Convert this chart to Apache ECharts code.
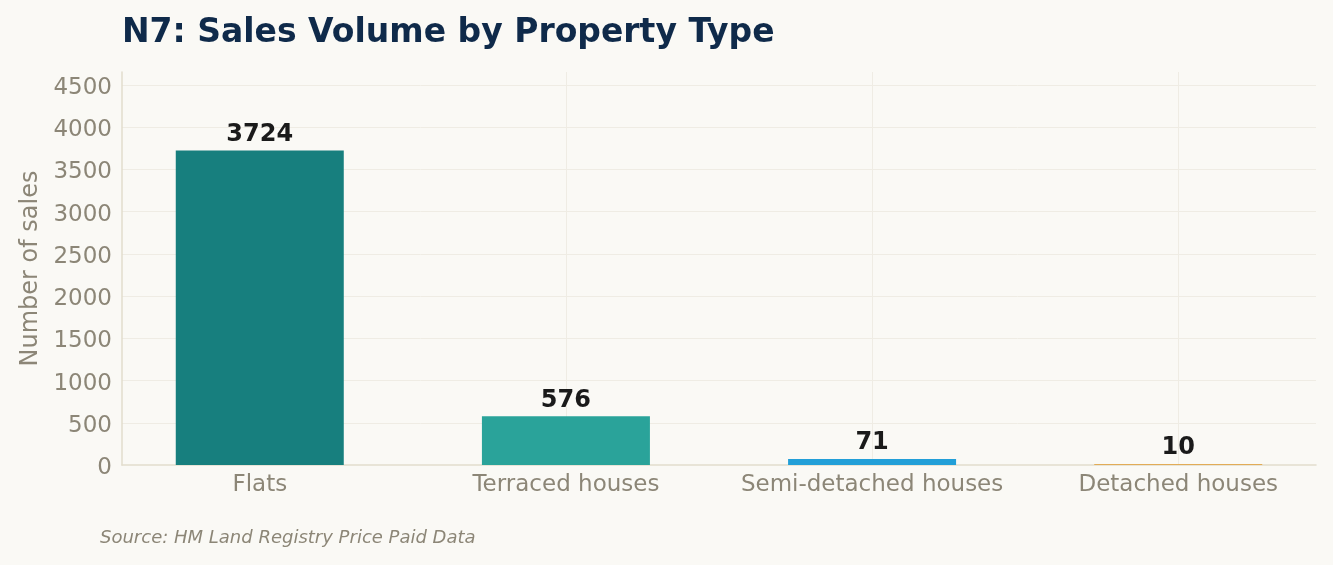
<!DOCTYPE html>
<html>
<head>
<meta charset="utf-8">
<style>
html,body{margin:0;padding:0;background:#faf9f5;}
#chart{width:1333px;height:565px;}
</style>
<script src="https://cdn.jsdelivr.net/npm/echarts@6/dist/echarts.min.js"></script>
</head>
<body>
<div id="chart"></div>
<script>
const categories = ["Flats", "Terraced houses", "Semi-detached houses", "Detached houses"];
const salesCounts = [3724, 576, 71, 10];
const barColors = ["#177f7e", "#2aa39a", "#229fd8", "#e09a2c"];
const yTicks = [0, 500, 1000, 1500, 2000, 2500, 3000, 3500, 4000, 4500];

const chart = echarts.init(document.getElementById('chart'), null, {renderer: 'canvas'});
const positions = categories.map((c, i) => i);
const font = "DejaVu Sans";
const muted = "#8c8677";

chart.setOption({
  backgroundColor: "#faf9f5",
  animation: false,
  title: {
    text: "N7: Sales Volume by Property Type",
    left: 117, top: 12,
    textStyle: {fontFamily: font, fontSize: 33, fontWeight: "bold", color: "#0f2a4a"}
  },
  graphic: [{
    type: "text", left: 100, top: 529,
    style: {text: "Source: HM Land Registry Price Paid Data", font: "italic 18px DejaVu Sans", fill: muted}
  }],
  grid: {left: 122, right: 17, top: 72, bottom: 100},
  xAxis: {
    type: "value",
    min: -0.45, max: 3.45,
    axisLine: {show: true, lineStyle: {color: "#e2ddcd", width: 1.5}},
    axisTick: {show: false, customValues: positions},
    axisLabel: {
      customValues: positions,
      formatter: v => categories[Math.round(v)] || "",
      fontFamily: font, fontSize: 23, color: muted, margin: 9
    },
    splitLine: {show: true, showMinLine: false, lineStyle: {color: "#efece4", width: 1}}
  },
  yAxis: {
    type: "value",
    min: 0, max: 4655, interval: 500,
    name: "Number of sales",
    nameLocation: "middle", nameGap: 79,
    nameTextStyle: {fontFamily: font, fontSize: 24, color: muted},
    axisLine: {show: true, onZero: false, lineStyle: {color: "#e2ddcd", width: 1.5}},
    axisTick: {show: false},
    axisLabel: {
      fontFamily: font, fontSize: 23, color: muted, margin: 10, showMaxLabel: false,
      formatter: v => yTicks.includes(v) ? "{t|" + v + "}" : "",
      rich: {t: {fontFamily: font, fontSize: 23, color: muted, padding: [6, 0, 0, 0]}}
    },
    splitLine: {show: true, showMaxLine: false, showMinLine: false, lineStyle: {color: "#efece4", width: 1}}
  },
  series: [{
    type: "bar",
    barWidth: 168,
    data: salesCounts.map((v, i) => ({value: [positions[i], v], itemStyle: {color: barColors[i]}})),
    label: {
      show: true, position: "top", distance: 4,
      formatter: p => String(p.value[1]),
      fontFamily: font, fontSize: 24, fontWeight: "bold", color: "#1a1a1a"
    }
  }]
});
</script>
</body>
</html>
